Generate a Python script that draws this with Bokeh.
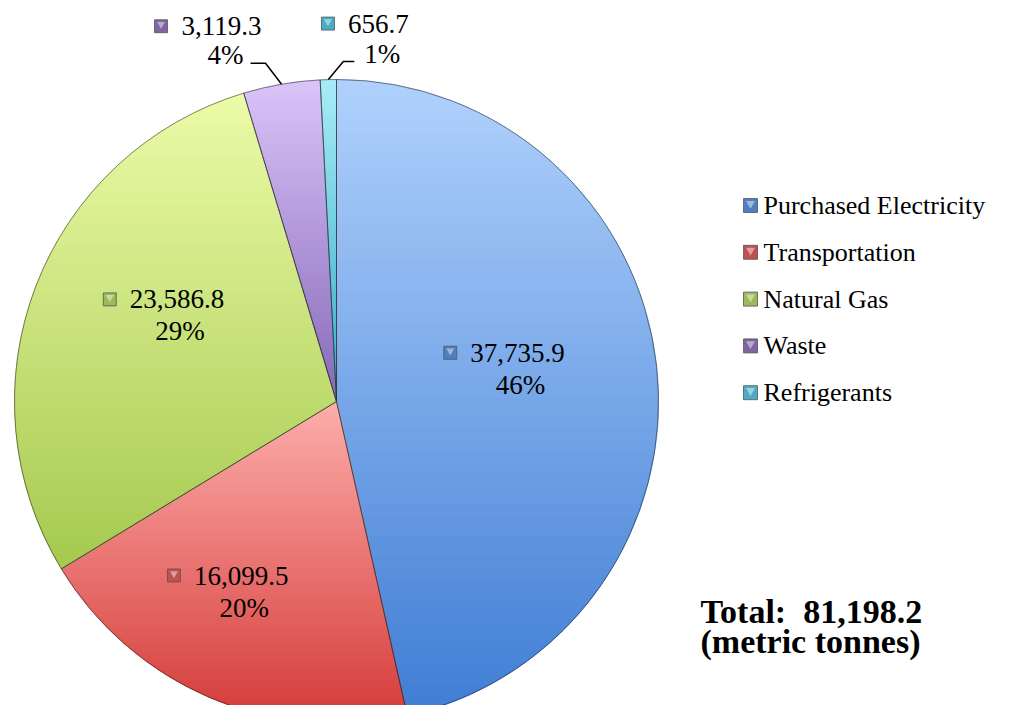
import numpy as np
from bokeh.plotting import figure
from bokeh.models import Range1d, ColumnDataSource
from bokeh.embed import file_html
from bokeh.resources import INLINE
from bokeh.core.properties import value

# ---------------- data ----------------
categories = ["Purchased Electricity", "Transportation", "Natural Gas", "Waste", "Refrigerants"]
values = [37735.9, 16099.5, 23586.8, 3119.3, 656.7]
unit_label = "(metric tonnes)"

# ---------------- styles ----------------
top_colors = ["#b0d1fc", "#fdaeab", "#ecfba8", "#dac4f9", "#a8ecf8"]
bottom_colors = ["#3f7dd4", "#d43a38", "#a5c94f", "#8668b8", "#35a9c6"]
mid_colors = ["#7fadef", "#ee7a76", "#c9e57c", "#b497e2", "#72d0e6"]
key_colors = ["#4f7fc0", "#c0504d", "#9bbb59", "#8064a2", "#4bacc6"]
SERIF = value("Liberation Serif")

W, H = 994, 705
CX, CY, R = 336.0, 304.0, 322.0

p = figure(width=W, height=H, output_backend="svg", toolbar_location=None,
           x_range=Range1d(0, W), y_range=Range1d(0, H),
           x_axis_location=None, y_axis_location=None, min_border=0)
p.grid.visible = False
p.outline_line_color = None
p.background_fill_color = "white"
p.border_fill_color = "white"

vals = np.array(values, dtype=float)
total = vals.sum()
frac = vals / total
cum = np.concatenate([[0.0], np.cumsum(frac)])
start_ang = np.pi / 2 - 2 * np.pi * cum[:-1]
end_ang = np.pi / 2 - 2 * np.pi * cum[1:]
mid_ang = (start_ang + end_ang) / 2
value_txt = [f"{v:,.1f}" for v in vals]
pct_txt = [f"{round(f * 100):.0f}%" for f in frac]

src = ColumnDataSource(dict(x=[CX] * len(vals), y=[CY] * len(vals),
                            start=start_ang, end=end_ang, color=mid_colors, name=categories))
# base slices
p.wedge(x="x", y="y", radius=R, start_angle="start", end_angle="end", direction="clock",
        fill_color="color", line_color=None, source=src)


# vertical gradient overlay per slice (clipped horizontal bands of each wedge polygon)
def hex2rgb(h):
    h = h.lstrip("#")
    return np.array([int(h[i:i + 2], 16) for i in (0, 2, 4)], dtype=float)


def rgb2hex(c):
    c = np.clip(np.round(c), 0, 255).astype(int)
    return "#%02x%02x%02x" % tuple(c)


def clip(poly, y0, keep_above):
    out = []
    n = len(poly)
    for k in range(n):
        a = poly[k]
        b = poly[(k + 1) % n]
        ina = a[1] >= y0 if keep_above else a[1] <= y0
        inb = b[1] >= y0 if keep_above else b[1] <= y0
        if ina:
            out.append(a)
        if ina != inb:
            t = (y0 - a[1]) / (b[1] - a[1])
            out.append((a[0] + t * (b[0] - a[0]), y0))
    return out


bx_all, by_all, bc_all = [], [], []
NB = 60
for i in range(len(vals)):
    angs = np.linspace(start_ang[i], end_ang[i], 240)
    poly = [(CX, CY)] + [(CX + R * np.cos(a), CY + R * np.sin(a)) for a in angs]
    ys = [pt[1] for pt in poly]
    ymin, ymax = min(ys), max(ys)
    edges = np.linspace(ymin, ymax, NB + 1)
    c_top, c_bot = hex2rgb(top_colors[i]), hex2rgb(bottom_colors[i])
    for k in range(NB):
        band = clip(clip(poly, edges[k], True), edges[k + 1], False)
        if len(band) < 3:
            continue
        t = 1 - ((edges[k] + edges[k + 1]) / 2 - ymin) / (ymax - ymin)
        bx_all.append([pt[0] for pt in band])
        by_all.append([pt[1] for pt in band])
        bc_all.append(rgb2hex(c_top + (c_bot - c_top) * t))
p.patches(bx_all, by_all, fill_color=bc_all, line_color=bc_all, line_width=1)

# slice outlines
p.wedge(x="x", y="y", radius=R, start_angle="start", end_angle="end", direction="clock",
        fill_color=None, line_color="#2a2a2a", line_alpha=0.55, line_width=1, source=src)

# ---------------- data labels ----------------
LFS = 27  # label font size px


def est_w(s, fs):
    w = 0.0
    for ch in s:
        if ch.isdigit():
            w += 0.5
        elif ch in ",.":
            w += 0.25
        elif ch == "%":
            w += 0.833
        else:
            w += 0.5
    return w * fs


inside = [0, 1, 2]
in_dang = {0: np.radians(4.7), 1: np.radians(-6.8), 2: np.radians(-5.5)}
in_rfrac = {0: 0.53, 1: 0.68, 2: 0.60}

lab_x1, lab_y1, lab_t1, lab_x2, lab_y2, lab_t2 = [], [], [], [], [], []
mk_x, mk_y, mk_c = [], [], []
for i in inside:
    a = mid_ang[i] + in_dang[i]
    bx = CX + in_rfrac[i] * R * np.cos(a)
    by = CY + in_rfrac[i] * R * np.sin(a)
    tx = bx + 13.5
    w = est_w(value_txt[i], LFS)
    lab_x1.append(tx); lab_y1.append(by + 16); lab_t1.append(value_txt[i])
    lab_x2.append(tx + 3); lab_y2.append(by - 16); lab_t2.append(pct_txt[i])
    mk_x.append(tx - w / 2 - 20); mk_y.append(by + 16); mk_c.append(key_colors[i])

# outside labels with leader lines
out_cfg = {3: dict(elbow=(-16, 21), end=(-15, 0), text=(-60, 29), gap=29),
           4: dict(elbow=(15, 18), end=(11, 0), text=(50, 26), gap=30)}
lx, ly = [], []
for i, cfg in out_cfg.items():
    ex = CX + R * np.cos(mid_ang[i])
    ey = CY + R * np.sin(mid_ang[i])
    elx, ely = ex + cfg["elbow"][0], ey + cfg["elbow"][1]
    enx, eny = elx + cfg["end"][0], ely + cfg["end"][1]
    lx.append([ex, elx, enx]); ly.append([ey, ely, eny])
    tx, ty = ex + cfg["text"][0], ey + cfg["text"][1]
    w = est_w(value_txt[i], LFS)
    lab_x1.append(tx); lab_y1.append(ty + cfg["gap"]); lab_t1.append(value_txt[i])
    lab_x2.append(tx + 4); lab_y2.append(ty); lab_t2.append(pct_txt[i])
    mk_x.append(tx - w / 2 - 20); mk_y.append(ty + cfg["gap"]); mk_c.append(key_colors[i])

p.multi_line(lx, ly, line_color="black", line_width=1.5)
p.text(lab_x1, lab_y1, text=lab_t1, text_font=SERIF, text_font_size=f"{LFS}px",
       text_align="center", text_baseline="middle", text_color="black")
p.text(lab_x2, lab_y2, text=lab_t2, text_font=SERIF, text_font_size=f"{LFS}px",
       text_align="center", text_baseline="middle", text_color="black")
p.scatter(mk_x, mk_y, marker="square", size=13, fill_color=mk_c, line_color="#555555", line_width=0.8)
p.scatter(mk_x, [y + 2 for y in mk_y], marker="inverted_triangle", size=8, fill_color="white",
          fill_alpha=0.45, line_color=None)

# ---------------- legend ----------------
LEG_X, LEG_Y0, LEG_DY = 750, 500, 46.8
leg_y = [LEG_Y0 - k * LEG_DY for k in range(len(categories))]
p.scatter([LEG_X] * len(categories), leg_y, marker="square", size=14, fill_color=key_colors,
          line_color="#555555", line_width=0.8)
p.scatter([LEG_X] * len(categories), [y + 2 for y in leg_y], marker="inverted_triangle", size=9,
          fill_color="white", fill_alpha=0.45, line_color=None)
p.text([LEG_X + 13] * len(categories), leg_y, text=categories, text_font=SERIF,
       text_font_size="26px", text_align="left", text_baseline="middle", text_color="black")

# ---------------- total ----------------
p.text([700, 700], [94, 64], text=[f"Total:\u00a0\u00a0{total:,.1f}", unit_label], text_font=SERIF,
       text_font_size="34px", text_font_style="bold", text_align="left", text_baseline="middle",
       text_color="black")

open("out.html", "w").write(file_html(p, INLINE))
